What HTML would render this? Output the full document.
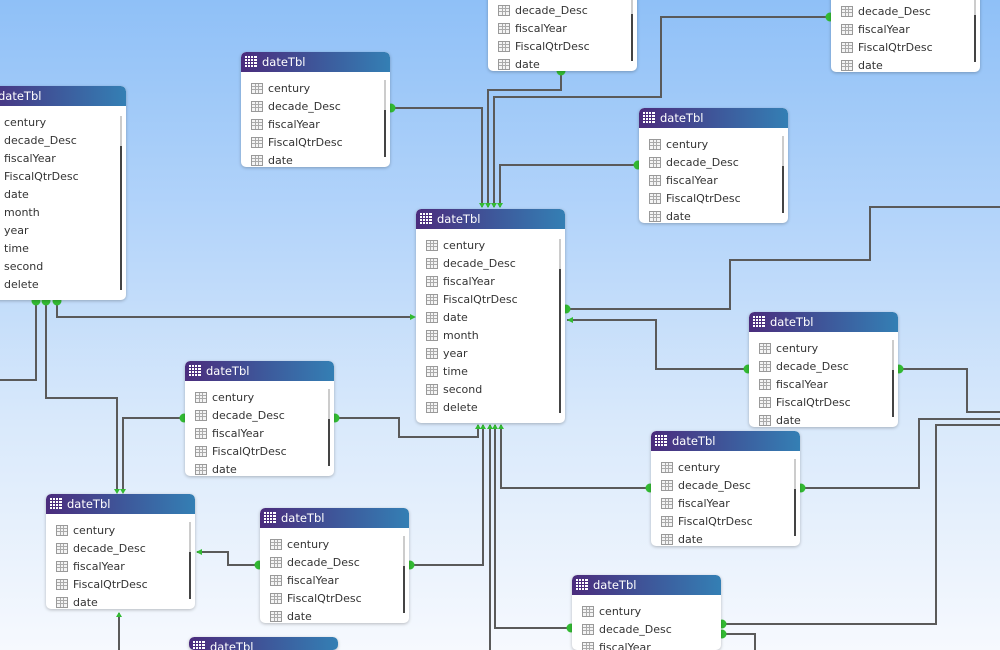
<!DOCTYPE html>
<html><head><meta charset="utf-8"><style>
html,body{margin:0;padding:0;width:1000px;height:650px;overflow:hidden}
#w{position:absolute;left:0;top:0;width:1000px;height:650px;overflow:hidden;background:linear-gradient(#8fc0f7 0%,#b5d5fa 35%,#d9e9fb 65%,#f6f9fe 100%);font-family:"DejaVu Sans","Liberation Sans",sans-serif}
svg.l{position:absolute;left:0;top:0;z-index:1}
.t{position:absolute;width:149px;background:#fff;border-radius:5px;box-shadow:0 1px 3px rgba(0,0,0,.25);z-index:2;overflow:hidden}
.t.f{height:115px}.t.b{height:214px}
.h{height:20px;border-radius:5px 5px 0 0;background:linear-gradient(90deg,#4b2c7d,#3d5a9c 55%,#347fb4);color:#fff;font-size:11.5px;line-height:20px;padding-left:21px;position:relative}
.h:before{content:"";position:absolute;left:4px;top:4px;width:12px;height:11px;background:
linear-gradient(90deg,transparent 2px,#4b2c7d 2px,#4b2c7d 3px,transparent 3px,transparent 5px,#4b2c7d 5px,#4b2c7d 6px,transparent 6px,transparent 8px,#4b2c7d 8px,#4b2c7d 9px,transparent 9px),
linear-gradient(transparent 2px,#4b2c7d 2px,#4b2c7d 3px,transparent 3px,transparent 5px,#4b2c7d 5px,#4b2c7d 6px,transparent 6px,transparent 8px,#4b2c7d 8px,#4b2c7d 9px,transparent 9px),#fff}
.r{height:18px;line-height:18px;font-size:11px;color:#333;padding-left:27px;position:relative}
.r:before{content:"";position:absolute;left:10px;top:3px;width:12px;height:11px;border:1px solid #999;box-sizing:border-box;background:
linear-gradient(90deg,transparent 3px,#aaa 3px,#aaa 4px,transparent 4px,transparent 6px,#aaa 6px,#aaa 7px,transparent 7px),
linear-gradient(transparent 2px,#aaa 2px,#aaa 3px,transparent 3px,transparent 5px,#aaa 5px,#aaa 6px,transparent 6px),#f4f4f4}
.bd{padding-top:8px}
.s{position:absolute;right:4px;width:2px;background:#444}
.s:before{content:"";position:absolute;left:0;top:-30px;width:2px;height:30px;background:#ccc}
.t.f .s{top:58px;bottom:10px}.t.b .s{top:60px;bottom:10px}
</style></head><body><div id="w">
<svg class="l" width="1000" height="650" viewBox="0 0 1000 650">
<g fill="none" stroke="#5a5a5a" stroke-width="2">
<path d="M390 108H482V207"/>
<path d="M561 72V90H488V207"/>
<path d="M831 17H661V97H494V207"/>
<path d="M639 165H500V207"/>
<path d="M57 300V317H414"/>
<path d="M565 309H730V260H870V207H1000"/>
<path d="M567 320H656V369H749"/>
<path d="M898 369H967V412H1000"/>
<path d="M334 418H399V437H478V425"/>
<path d="M483 425V565H409"/>
<path d="M490 425V650"/>
<path d="M495 425V628H572"/>
<path d="M501 425V488H651"/>
<path d="M800 488H919V419H1000"/>
<path d="M721 624H936V425H1000"/>
<path d="M721 634H755V650"/>
<path d="M260 565H228V552H197"/>
<path d="M185 418H123V492"/>
<path d="M46 300V398H117V492"/>
<path d="M36 300V380H0"/>
<path d="M119 613V650"/>
</g>
<g fill="#33bb33">
<circle cx="391" cy="108" r="4.5"/><circle cx="561" cy="71" r="4.5"/><circle cx="830" cy="17" r="4.5"/>
<circle cx="638" cy="165" r="4.5"/><circle cx="36" cy="301" r="4.5"/><circle cx="46" cy="301" r="4.5"/><circle cx="57" cy="301" r="4.5"/>
<circle cx="566" cy="309" r="4.5"/><circle cx="748" cy="369" r="4.5"/><circle cx="899" cy="369" r="4.5"/>
<circle cx="184" cy="418" r="4.5"/><circle cx="335" cy="418" r="4.5"/><circle cx="650" cy="488" r="4.5"/><circle cx="801" cy="488" r="4.5"/>
<circle cx="259" cy="565" r="4.5"/><circle cx="410" cy="565" r="4.5"/><circle cx="571" cy="628" r="4.5"/>
<circle cx="722" cy="624" r="4.5"/><circle cx="722" cy="634" r="4.5"/>
<path d="M479 203h6l-3 5z M485 203h6l-3 5z M491 203h6l-3 5z M497 203h6l-3 5z"/>
<path d="M475 429h6l-3-5z M480 429h6l-3-5z M487 429h6l-3-5z M492 429h6l-3-5z M498 429h6l-3-5z"/>
<path d="M410 314v6l6-3z M573 317v6l-6-3z M202 549v6l-6-3z"/>
<path d="M114 489h6l-3 5z M120 489h6l-3 5z M116 617h6l-3-5z"/>
</g>
</svg>

<div class="t b" style="left:-23px;top:86px"><div class="h">dateTbl</div><div class="bd"><div class="r">century</div><div class="r">decade_Desc</div><div class="r">fiscalYear</div><div class="r">FiscalQtrDesc</div><div class="r">date</div><div class="r">month</div><div class="r">year</div><div class="r">time</div><div class="r">second</div><div class="r">delete</div></div><div class="s"></div></div>

<div class="t f" style="left:241px;top:52px"><div class="h">dateTbl</div><div class="bd"><div class="r">century</div><div class="r">decade_Desc</div><div class="r">fiscalYear</div><div class="r">FiscalQtrDesc</div><div class="r">date</div></div><div class="s"></div></div>

<div class="t f" style="left:488px;top:-44px"><div class="h">dateTbl</div><div class="bd"><div class="r">century</div><div class="r">decade_Desc</div><div class="r">fiscalYear</div><div class="r">FiscalQtrDesc</div><div class="r">date</div></div><div class="s"></div></div>

<div class="t f" style="left:831px;top:-43px"><div class="h">dateTbl</div><div class="bd"><div class="r">century</div><div class="r">decade_Desc</div><div class="r">fiscalYear</div><div class="r">FiscalQtrDesc</div><div class="r">date</div></div><div class="s"></div></div>

<div class="t f" style="left:639px;top:108px"><div class="h">dateTbl</div><div class="bd"><div class="r">century</div><div class="r">decade_Desc</div><div class="r">fiscalYear</div><div class="r">FiscalQtrDesc</div><div class="r">date</div></div><div class="s"></div></div>

<div class="t b" style="left:416px;top:209px"><div class="h">dateTbl</div><div class="bd"><div class="r">century</div><div class="r">decade_Desc</div><div class="r">fiscalYear</div><div class="r">FiscalQtrDesc</div><div class="r">date</div><div class="r">month</div><div class="r">year</div><div class="r">time</div><div class="r">second</div><div class="r">delete</div></div><div class="s"></div></div>

<div class="t f" style="left:749px;top:312px"><div class="h">dateTbl</div><div class="bd"><div class="r">century</div><div class="r">decade_Desc</div><div class="r">fiscalYear</div><div class="r">FiscalQtrDesc</div><div class="r">date</div></div><div class="s"></div></div>

<div class="t f" style="left:185px;top:361px"><div class="h">dateTbl</div><div class="bd"><div class="r">century</div><div class="r">decade_Desc</div><div class="r">fiscalYear</div><div class="r">FiscalQtrDesc</div><div class="r">date</div></div><div class="s"></div></div>

<div class="t f" style="left:651px;top:431px"><div class="h">dateTbl</div><div class="bd"><div class="r">century</div><div class="r">decade_Desc</div><div class="r">fiscalYear</div><div class="r">FiscalQtrDesc</div><div class="r">date</div></div><div class="s"></div></div>

<div class="t f" style="left:46px;top:494px"><div class="h">dateTbl</div><div class="bd"><div class="r">century</div><div class="r">decade_Desc</div><div class="r">fiscalYear</div><div class="r">FiscalQtrDesc</div><div class="r">date</div></div><div class="s"></div></div>

<div class="t f" style="left:260px;top:508px"><div class="h">dateTbl</div><div class="bd"><div class="r">century</div><div class="r">decade_Desc</div><div class="r">fiscalYear</div><div class="r">FiscalQtrDesc</div><div class="r">date</div></div><div class="s"></div></div>

<div class="t f" style="left:572px;top:575px;height:75px"><div class="h">dateTbl</div><div class="bd"><div class="r">century</div><div class="r">decade_Desc</div><div class="r">fiscalYear</div></div></div>

<div class="t f" style="left:189px;top:637px;height:13px"><div class="h">dateTbl</div></div>
</div></body></html>
